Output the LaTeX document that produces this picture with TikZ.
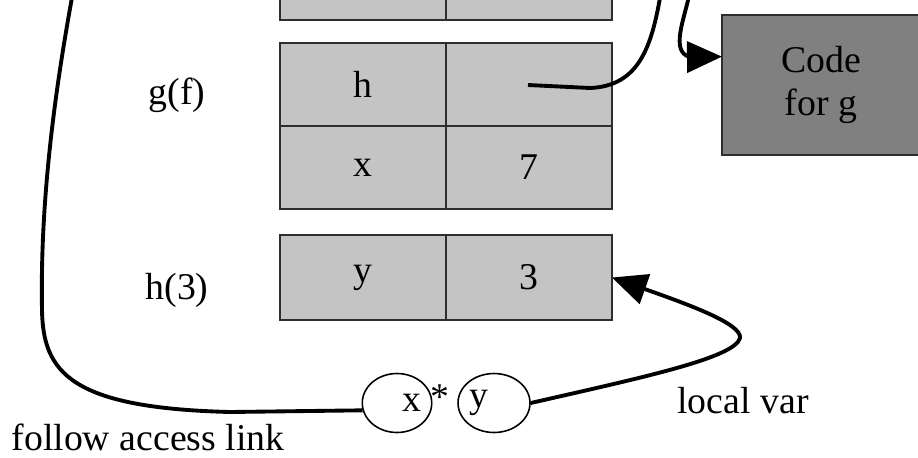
\documentclass[tikz,border=0pt]{standalone}
\usepackage{fontspec}
\setmainfont{Liberation Serif}
\usetikzlibrary{arrows.meta,shapes.geometric}
\definecolor{cellgray}{HTML}{C4C4C4}
\definecolor{codegray}{HTML}{808080}
\definecolor{edgegray}{HTML}{2E2E2E}
\begin{document}
\begin{tikzpicture}[x=0.02cm,y=-0.02cm,
  every node/.style={font=\fontsize{21.5}{24}\selectfont},
  cell/.style={draw=edgegray, line width=1.5pt, fill=cellgray, inner sep=0pt, outer sep=0pt,
    minimum width=3.32cm, minimum height=1.66cm, anchor=north west},
  codebox/.style={draw=edgegray, line width=1.5pt, fill=codegray, inner sep=0pt, outer sep=0pt,
    minimum width=3.96cm, minimum height=2.8cm, anchor=north west, align=center},
  oval/.style={ellipse, draw=black, line width=0.9pt, fill=white, inner sep=0pt,
    minimum height=1.18cm},
  link/.style={draw=black, line width=2.2pt},
  bigtip/.style={-{Triangle[length=0.7cm,width=0.62cm]}}
]
\useasboundingbox (0,0) rectangle (918,457);
\clip (0,0) rectangle (918,457);
% top partial record
\node[cell] (topl) at (280,-63) {};
\node[cell] (topr) at (446,-63) {};
% g(f) record
\node[cell] (gh) at (280,43) {h};
\node[cell] (gp) at (446,43) {};
\node[cell] (gx) at (280,126) {x};
\node[cell] (gv) at (446,126) {7};
% h(3) record
\node[cell, minimum height=1.7cm] (hy) at (280,235) {y};
\node[cell, minimum height=1.7cm] (hv) at (446,235) {3};
% labels
\node (gfl) at (177,95) {g(f)};
\node (hl) at (177,290) {h(3)};
\node (fal) at (148,437) {follow access link};
\node (lvl) at (743,401) {local var};
% code box
\node[codebox] (code) at (722,15) {Code\\for g};
% expression
\node[oval, minimum width=1.38cm] (ex) at (397,403) {\hspace*{0.8em}x};
\node (star) at (440,397) {*};
\node[oval, minimum width=1.44cm] (ey) at (494,403) {y\hspace*{0.8em}};
% free ends
\coordinate (alTop) at (73,-8);
\coordinate (gptr) at (528,85);
\coordinate (ptrTop) at (661,-8);
\coordinate (codeTop) at (690,-8);
% access link
\draw[link] (ex.192) -- (230,412) .. controls (70,408) and (43,372) .. (42,310)
  .. controls (40,200) and (55,90) .. (alTop);
% pointer out of g(f)
\draw[link] (gptr) -- (590,88) .. controls (640,86) and (652,45) .. (ptrTop);
% pointer into code box
\draw[link, bigtip] (codeTop) .. controls (684,20) and (670,52) .. (690,57) -- (code.164);
% local var arrow
\draw[link, bigtip] (ey.east) .. controls (640,378) and (735,358) .. (740,338)
  .. controls (742,324) and (690,305) .. (hv.east);
\end{tikzpicture}
\end{document}
